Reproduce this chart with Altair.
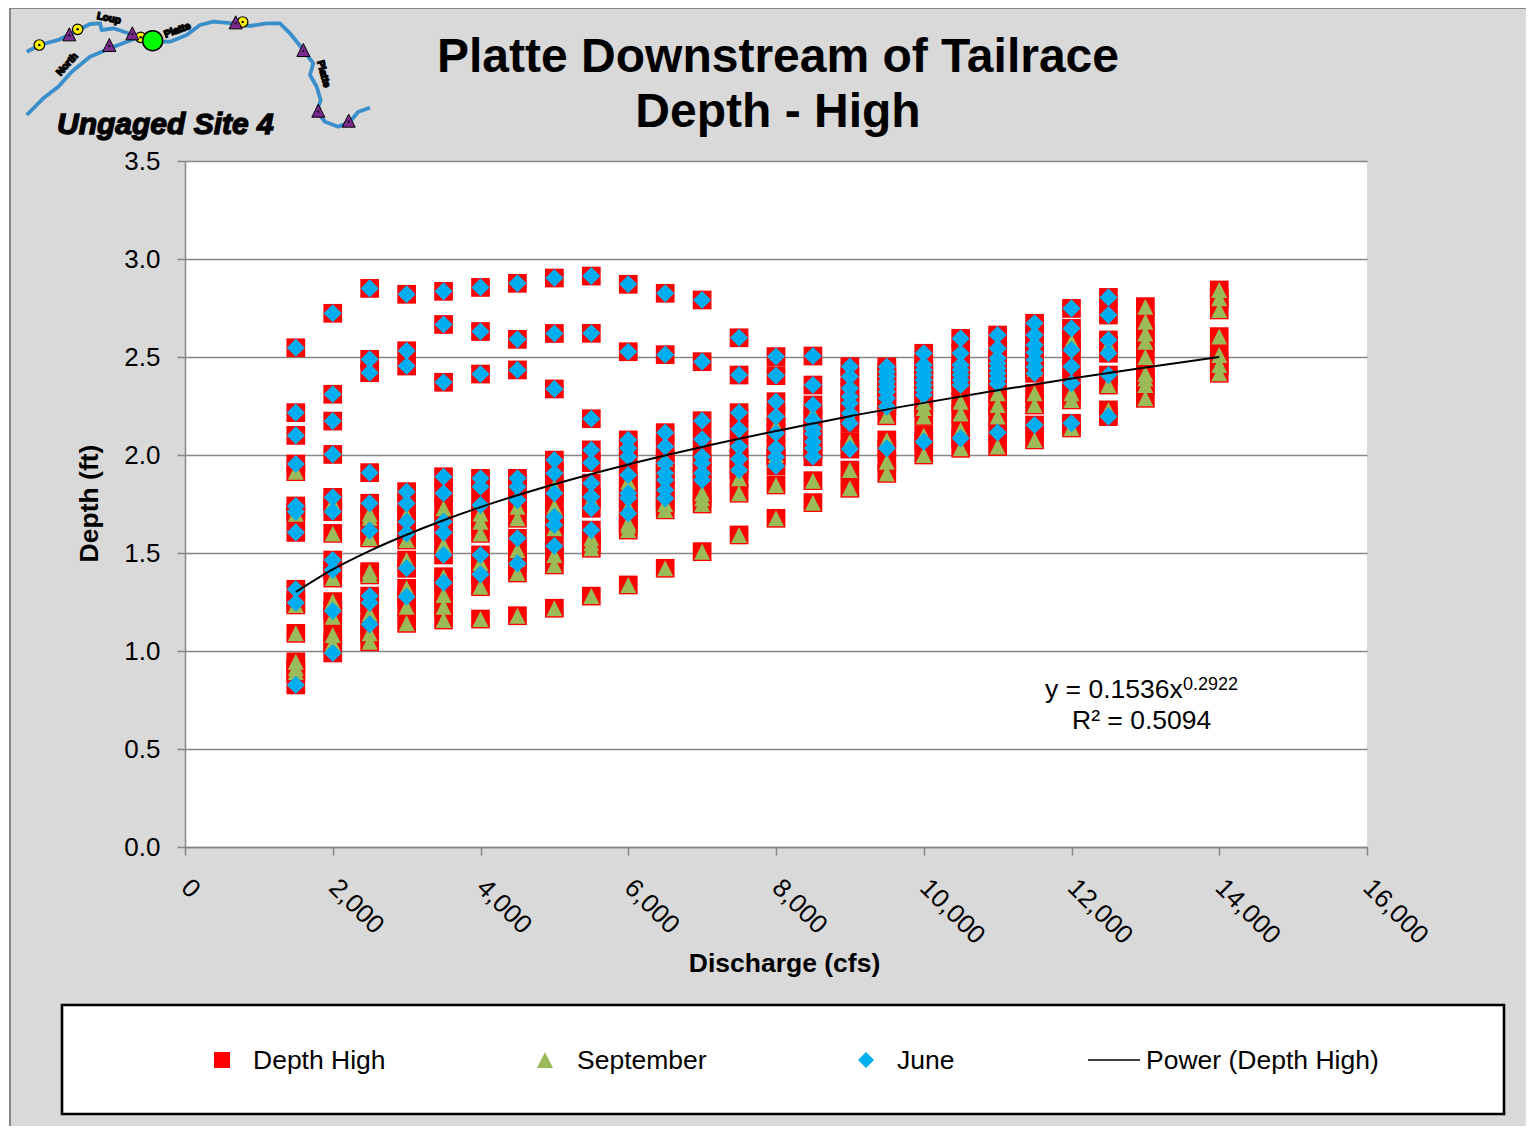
import altair as alt
import pandas as pd

FONT = "Liberation Sans"
TITLE_LINES = ["Platte Downstream of Tailrace", "Depth - High"]
X_TICKS = [0, 2000, 4000, 6000, 8000, 10000, 12000, 14000, 16000]
Y_TICKS = [0.0, 0.5, 1.0, 1.5, 2.0, 2.5, 3.0, 3.5]

JUNE = {
    1500: [2.547, 2.216, 2.10, 1.954, 1.74, 1.71, 1.605, 1.315, 1.246, 0.827],
    2000: [2.723, 2.31, 2.173, 2.003, 1.784, 1.711, 1.464, 1.413, 1.204, 0.99],
    2500: [2.85, 2.488, 2.42, 1.91, 1.754, 1.614, 1.28, 1.246, 1.136],
    3000: [2.82, 2.532, 2.454, 1.813, 1.753, 1.66, 1.60, 1.422, 1.277],
    3500: [2.835, 2.666, 2.371, 1.889, 1.805, 1.66, 1.604, 1.49, 1.349],
    4000: [2.855, 2.63, 2.413, 1.881, 1.838, 1.745, 1.49, 1.391],
    4500: [2.876, 2.59, 2.434, 1.881, 1.838, 1.77, 1.575, 1.447],
    5000: [2.903, 2.62, 2.337, 1.974, 1.907, 1.805, 1.685, 1.643, 1.536],
    5500: [2.913, 2.621, 2.185, 2.026, 1.961, 1.856, 1.787, 1.728, 1.617],
    6000: [2.871, 2.527, 2.077, 2.034, 1.991, 1.898, 1.805, 1.78, 1.702],
    6500: [2.825, 2.512, 2.114, 2.043, 1.958, 1.907, 1.872, 1.821, 1.779],
    7000: [2.791, 2.476, 2.175, 2.08, 1.991, 1.959, 1.907, 1.872],
    7500: [2.598, 2.408, 2.216, 2.131, 2.043, 1.98, 1.923],
    8000: [2.502, 2.405, 2.272, 2.196, 2.111, 2.034, 1.99, 1.944],
    8500: [2.505, 2.357, 2.255, 2.179, 2.135, 2.11, 2.068, 2.035, 1.991],
    9000: [2.451, 2.40, 2.34, 2.298, 2.264, 2.213, 2.162, 2.03],
    9500: [2.45, 2.425, 2.40, 2.374, 2.349, 2.323, 2.289, 2.247, 2.034],
    10000: [2.519, 2.459, 2.434, 2.408, 2.383, 2.357, 2.332, 2.306, 2.068],
    10500: [2.595, 2.519, 2.459, 2.434, 2.408, 2.383, 2.357, 2.085],
    11000: [2.612, 2.544, 2.493, 2.467, 2.441, 2.416, 2.39, 2.364, 2.115],
    11500: [2.672, 2.612, 2.561, 2.523, 2.485, 2.45, 2.417, 2.153],
    12000: [2.748, 2.646, 2.536, 2.451, 2.366, 2.162],
    12500: [2.804, 2.714, 2.587, 2.519, 2.408, 2.196],
}
SEPTEMBER = {
    1500: [1.915, 1.70, 1.235, 1.09, 0.945, 0.913, 0.893],
    2000: [1.755, 1.60, 1.372, 1.252, 1.175, 1.082, 1.04],
    2500: [1.70, 1.68, 1.577, 1.405, 1.388, 1.19, 1.09, 1.047],
    3000: [1.694, 1.566, 1.464, 1.32, 1.226, 1.141],
    3500: [1.728, 1.541, 1.379, 1.286, 1.226, 1.158],
    4000: [1.70, 1.66, 1.60, 1.449, 1.328, 1.163],
    4500: [1.736, 1.677, 1.515, 1.47, 1.398, 1.18],
    5000: [1.838, 1.736, 1.626, 1.49, 1.439, 1.218],
    5500: [1.77, 1.575, 1.55, 1.524, 1.28],
    6000: [1.864, 1.736, 1.653, 1.64, 1.617, 1.337],
    6500: [1.98, 1.75, 1.72, 1.422],
    7000: [1.805, 1.779, 1.75, 1.507],
    7500: [1.95, 1.881, 1.805, 1.592],
    8000: [2.144, 2.0, 1.847, 1.677],
    8500: [2.21, 2.026, 1.869, 1.757],
    9000: [2.196, 2.068, 1.923, 1.83],
    9500: [2.27, 2.2, 2.077, 1.966, 1.906],
    10000: [2.27, 2.24, 2.196, 2.1, 2.0],
    10500: [2.272, 2.212, 2.127, 2.034],
    11000: [2.315, 2.255, 2.196, 2.043],
    11500: [2.44, 2.315, 2.255, 2.077],
    12000: [2.578, 2.315, 2.281, 2.138],
    12500: [2.56, 2.357, 2.23],
    13000: [2.757, 2.68, 2.62, 2.578, 2.50, 2.415, 2.39, 2.357, 2.289],
    14000: [2.842, 2.80, 2.74, 2.604, 2.51, 2.459, 2.417],
}
TREND_X = [1500, 2000, 2500, 3000, 3500, 4000, 5000, 6000, 7000, 8000, 9000, 10000, 11000, 12000, 13000, 14000]
TREND_Y = [1.301, 1.416, 1.511, 1.593, 1.667, 1.734, 1.851, 1.952, 2.041, 2.122, 2.198, 2.266, 2.33, 2.39, 2.447, 2.50]

# logo outline, in reference pixels x3
RIVERS = [
    [(80, 155), (120, 135), (180, 118), (205, 105), (235, 90), (270, 72), (300, 70), (305, 90), (340, 85), (385, 100), (410, 118)],
    [(80, 345), (130, 295), (175, 260), (215, 215), (270, 170), (330, 145), (380, 125), (420, 110), (455, 125)],
    [(455, 125), (510, 125), (560, 105), (600, 75), (640, 65), (700, 70), (750, 78), (800, 70), (840, 70), (870, 100),
     (910, 150), (940, 190), (930, 225), (950, 260), (962, 300), (950, 335), (975, 365), (1015, 380), (1050, 365), (1075, 335), (1110, 323)],
]
LOGO_TRIANGLES = [(208, 103), (328, 135), (397, 100), (707, 67), (910, 150), (955, 332), (1046, 362)]
LOGO_RINGS = [(118, 135), (233, 88), (422, 112), (728, 66)]
LOGO_SITE = (458, 122)
LOGO_LABELS = [("Loup", 325, 55, 12), ("North", 208, 190, -48), ("Platte", 535, 90, -20), ("Platte", 962, 215, 75)]

RED, GREEN, BLUE, GRAY = "#FF0000", "#9BBB59", "#00AEEF", "#868686"
TRI = "M0,-1L1,1L-1,1Z"
DIA = "M0,-1L1,0L0,1L-1,0Z"
PLOT_L, PLOT_T, PLOT_W, PLOT_H = 185, 161, 1182, 686
ORIGIN_X, ORIGIN_Y = 8, 8
CANVAS_W, CANVAS_H = 1518, 1118


def rows(d):
    return pd.DataFrame([{"q": k, "d": v} for k, vs in d.items() for v in vs])


def px(x):
    return alt.value(x - PLOT_L)


def py(y):
    return alt.value(y - PLOT_T)


def text(s, x, y, size=26.5, align="left", weight="normal", style="normal", color="black", angle=0, stroke=None, sw=0):
    kw = dict(font=FONT, fontSize=size, align=align, baseline="alphabetic", fontWeight=weight, fontStyle=style,
              color=color, angle=angle % 360)
    if stroke:
        kw.update(stroke=stroke, strokeWidth=sw)
    return alt.Chart(ONE).mark_text(**kw).encode(x=px(x), y=py(y), text=alt.value(s))


def glyph(x, y, shape, size, fill, stroke=None, sw=0):
    kw = dict(shape=shape, size=size, filled=True, color=fill, opacity=1)
    if stroke:
        kw.update(stroke=stroke, strokeWidth=sw)
    return alt.Chart(ONE).mark_point(**kw).encode(x=px(x), y=py(y))


def box(x1, y1, x2, y2, **kw):
    return alt.Chart(ONE).mark_rect(**kw).encode(x=px(x1), x2=px(x2), y=py(y1), y2=py(y2))


ONE = pd.DataFrame({"k": [0]})
x_enc = alt.X("q:Q", scale=alt.Scale(domain=[0, 16000], nice=False),
              axis=alt.Axis(values=X_TICKS, format=",.0f", title="Discharge (cfs)", grid=False, labelAngle=45,
                            labelAlign="left", labelBaseline="middle", labelPadding=28, labelOverlap=False,
                            labelFlush=False, labelBound=False, titleX=599, titleY=116, titleBaseline="middle"))
y_enc = alt.Y("d:Q", scale=alt.Scale(domain=[0, 3.5], nice=False),
              axis=alt.Axis(values=Y_TICKS, format=".1f", title="Depth (ft)", grid=True, labelPadding=17,
                            titleX=-96, titleY=342, titleBaseline="middle"))

depth_high = pd.concat([rows(JUNE), rows(SEPTEMBER)], ignore_index=True)
red = alt.Chart(depth_high).mark_square(size=350, color=RED, opacity=1).encode(x=x_enc, y=y_enc)
sept = alt.Chart(rows(SEPTEMBER)).mark_point(shape=TRI, size=256, filled=True, color=GREEN, opacity=1).encode(x="q:Q", y="d:Q")
june = alt.Chart(rows(JUNE)).mark_point(shape=DIA, size=330, filled=True, color=BLUE, opacity=1).encode(x="q:Q", y="d:Q")
trend = alt.Chart(pd.DataFrame({"q": TREND_X, "d": TREND_Y})).mark_line(color="black", strokeWidth=2, interpolate="monotone").encode(x="q:Q", y="d:Q")

layers = [red, sept, june, trend]

# panel edge
layers += [box(0, 0, 9, 1134, color="white"), box(9, ORIGIN_Y, 11, 1134, color=GRAY), box(9, ORIGIN_Y, 1534, 9, color=GRAY)]

# titles
layers += [text(TITLE_LINES[0], 778, 72, size=48, align="center", weight="bold"),
           text(TITLE_LINES[1], 778, 127, size=48, align="center", weight="bold")]

# trendline equation
layers += [text("y = 0.1536x", 1045, 698), text("0.2922", 1183, 690, size=18), text("R² = 0.5094", 1072, 729)]

# legend
layers += [box(62, 1005, 1504, 1114, fill="white", stroke="black", strokeWidth=2.6),
           glyph(222, 1060, "square", 256, RED), text("Depth High", 253, 1069),
           glyph(545, 1060, TRI, 256, GREEN), text("September", 577, 1069),
           glyph(866, 1060, DIA, 256, BLUE), text("June", 897, 1069),
           alt.Chart(ONE).mark_rule(color="black", strokeWidth=1.5).encode(x=px(1088), x2=px(1140), y=py(1060)),
           text("Power (Depth High)", 1146, 1069)]

# logo
river_path = " ".join("M" + "L".join(f"{a / 3:.1f},{b / 3:.1f}" for a, b in r) for r in RIVERS)
layers.append(alt.Chart(ONE).mark_point(shape=river_path, size=4, filled=False, color="#3A8FCB", strokeWidth=3.8, opacity=1,
                                        strokeJoin="round").encode(x=px(0), y=py(0)))
for a, b in LOGO_RINGS:
    layers.append(glyph(a / 3, b / 3, "circle", 110, "#FFF200", "black", 1.2))
    layers.append(glyph(a / 3, b / 3, "circle", 6, "black"))
for a, b in LOGO_TRIANGLES:
    layers.append(glyph(a / 3, b / 3, TRI, 170, "#7B2A8E", "black", 1))
    layers.append(glyph(a / 3, b / 3 + 1, "circle", 5, "black"))
layers.append(glyph(LOGO_SITE[0] / 3, LOGO_SITE[1] / 3, "circle", 400, "#00FF00", "black", 1.5))
for s, a, b, ang in LOGO_LABELS:
    layers.append(text(s, a / 3, b / 3 + 3, size=10, align="center", weight="bold", angle=ang, stroke="black", sw=1.4))
layers.append(text("Ungaged Site 4", 57, 134, size=30, weight="bold", style="italic", stroke="black", sw=1.3))

chart = alt.layer(*layers).properties(
    width=PLOT_W, height=PLOT_H, background="#D9D9D9",
    padding={"left": PLOT_L - ORIGIN_X, "top": PLOT_T - ORIGIN_Y,
             "right": CANVAS_W - (PLOT_L - ORIGIN_X) - PLOT_W, "bottom": CANVAS_H - (PLOT_T - ORIGIN_Y) - PLOT_H},
    autosize=alt.AutoSizeParams(type="none"),
).configure_view(fill="white", strokeWidth=0).configure_axis(
    labelFont=FONT, labelFontSize=26, labelColor="black", titleFont=FONT, titleFontSize=26.5, titleFontWeight="bold",
    titleColor="black", tickColor=GRAY, tickSize=8, tickWidth=1.5, domainColor=GRAY, domainWidth=1.5,
    gridColor=GRAY, gridWidth=1.5, gridOpacity=1,
)

chart.save("out.html", embed_options={"renderer": "svg", "actions": False})
